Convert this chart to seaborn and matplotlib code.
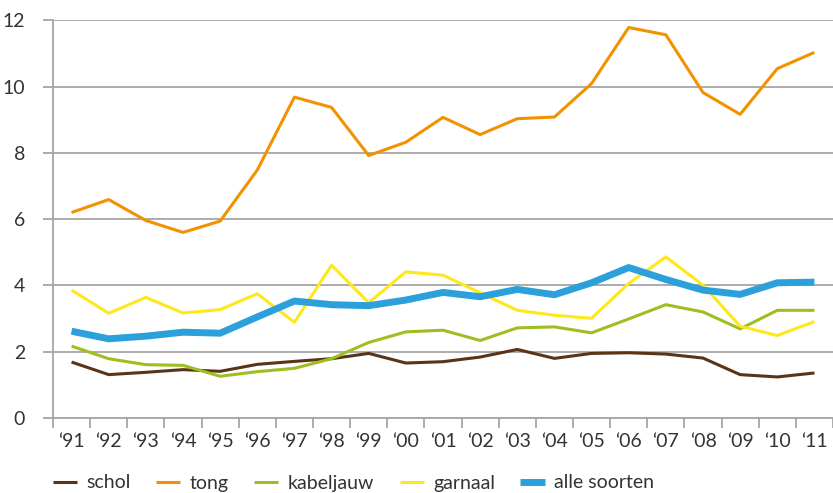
import numpy as np
import pandas as pd
import seaborn as sns
import matplotlib.pyplot as plt
from matplotlib.ticker import FixedLocator

jaren = ["‘91", "‘92", "‘93", "‘94", "‘95", "‘96", "‘97", "‘98", "‘99", "‘00", "‘01",
         "‘02", "‘03", "‘04", "‘05", "‘06", "‘07", "‘08", "‘09", "‘10", "‘11"]

schol = [1.69, 1.31, 1.38, 1.46, 1.41, 1.62, 1.71, 1.79, 1.95, 1.66, 1.70,
         1.84, 2.07, 1.80, 1.95, 1.97, 1.93, 1.81, 1.31, 1.24, 1.36]
tong = [6.20, 6.59, 5.96, 5.60, 5.94, 7.48, 9.68, 9.37, 7.92, 8.32, 9.07,
        8.55, 9.03, 9.08, 10.09, 11.78, 11.56, 9.82, 9.16, 10.54, 11.03]
kabeljauw = [2.17, 1.79, 1.61, 1.59, 1.26, 1.40, 1.50, 1.79, 2.28, 2.60, 2.65,
             2.34, 2.72, 2.75, 2.57, 2.99, 3.42, 3.20, 2.69, 3.25, 3.25]
garnaal = [3.86, 3.16, 3.64, 3.17, 3.27, 3.75, 2.89, 4.61, 3.48, 4.41, 4.31,
           3.78, 3.25, 3.10, 3.01, 4.06, 4.86, 4.01, 2.77, 2.49, 2.91]
alle_soorten = [2.62, 2.39, 2.47, 2.59, 2.56, 3.05, 3.53, 3.42, 3.39, 3.56, 3.79,
                3.66, 3.88, 3.72, 4.08, 4.54, 4.18, 3.86, 3.73, 4.08, 4.10]

reeksen = {"schol": schol, "tong": tong, "kabeljauw": kabeljauw,
           "garnaal": garnaal, "alle soorten": alle_soorten}
kleuren = {"schol": "#5a3417", "tong": "#f39200", "kabeljauw": "#9dbf22",
           "garnaal": "#ffe81a", "alle soorten": "#2ba0da"}
dikte = {"schol": 2.2, "tong": 2.2, "kabeljauw": 2.2, "garnaal": 2.2, "alle soorten": 5.0}

sns.set_style("white")
plt.rcParams["font.family"] = ["Lato", "DejaVu Sans"]

fig = plt.figure(figsize=(8.33, 4.93), dpi=100)
ax = fig.add_axes([0.0636, 0.152, 0.9364, 0.807])

idx = np.arange(len(jaren))
for naam, waarden in reeksen.items():
    df = pd.DataFrame({"jaar": idx, "waarde": waarden})
    sns.lineplot(data=df, x="jaar", y="waarde", ax=ax, color=kleuren[naam],
                 linewidth=dikte[naam], label=naam, solid_capstyle="butt")

grijs = "#a6a6a6"
tekst = "#333333"
ax.set_xlim(-0.5, len(jaren) - 0.5)
ax.set_ylim(0, 12)
ax.set_yticks(np.arange(0, 13, 2))
ax.yaxis.grid(True, color=grijs, linewidth=1.3)
ax.set_axisbelow(True)

ax.set_xticks(idx)
ax.set_xticklabels(jaren)
ax.xaxis.set_minor_locator(FixedLocator(np.arange(-0.5, len(jaren), 1)))
ax.tick_params(axis="x", which="major", length=0, pad=11, labelsize=14, labelcolor=tekst)
ax.tick_params(axis="x", which="minor", length=7, width=1.3, color=grijs, direction="out", bottom=True)
ax.tick_params(axis="y", length=7, width=1.3, color=grijs, direction="out", left=True,
               pad=13, labelsize=14, labelcolor=tekst)
for kant in ["top", "right"]:
    ax.spines[kant].set_visible(False)
for kant in ["left", "bottom"]:
    ax.spines[kant].set_color(grijs)
    ax.spines[kant].set_linewidth(1.3)
ax.set_xlabel("")
ax.set_ylabel("")

ax.get_legend().remove()
handles, labels = ax.get_legend_handles_labels()
fig.legend(handles, labels, loc="center left", bbox_to_anchor=(53 / 833, 1 - 483 / 493), ncol=5,
           frameon=False, fontsize=14, handlelength=1.24, handletextpad=0.5,
           columnspacing=1.29, borderpad=0, borderaxespad=0, labelcolor=tekst)

fig.savefig("out.png", dpi=100)
